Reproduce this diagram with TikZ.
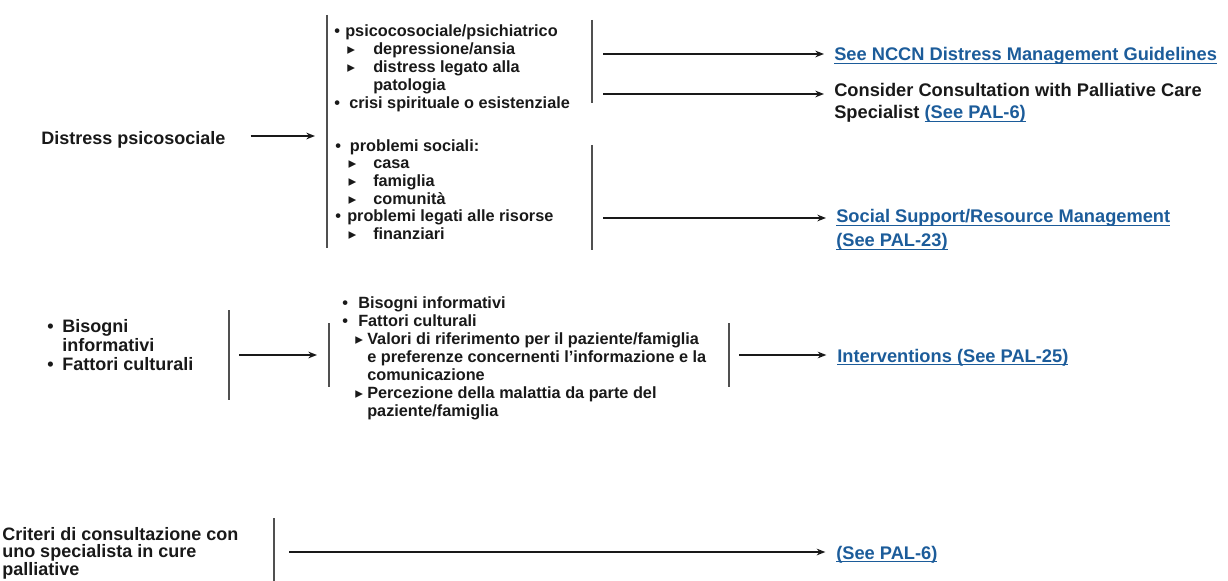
\documentclass[tikz,border=0pt]{standalone}
\usepackage{fontspec}
\setmainfont{Liberation Sans}
\newfontfamily\dejavu{DejaVu Sans}
\usetikzlibrary{arrows.meta}
\definecolor{linkblue}{RGB}{28,92,154}
\definecolor{ink}{RGB}{25,25,25}
\definecolor{bargray}{RGB}{80,80,80}
\newcommand{\tribullet}{{\dejavu\fontsize{11.5pt}{11.5pt}\selectfont ▸}}
\newcommand{\lnk}[1]{{\color{linkblue}\setbox0\hbox{#1}\rlap{\rule[-2.4pt]{\wd0}{1.05pt}}\box0}}
% note: for multi-line nodes the base anchor is the baseline of the LAST line
\tikzset{
  main/.style={font=\bfseries\fontsize{13.5pt}{14.25pt}\selectfont, text=ink, inner sep=0pt, align=left, anchor=base west},
  listtxt/.style={main, font=\bfseries\fontsize{12.2pt}{13.5pt}\selectfont},
  listtxtb/.style={main, font=\bfseries\fontsize{12.2pt}{13.2pt}\selectfont},
  crit/.style={main, font=\bfseries\fontsize{13.5pt}{13.2pt}\selectfont},
  linktxt/.style={main, font=\bfseries\fontsize{13.7pt}{16.5pt}\selectfont},
  linktxtb/.style={main, font=\bfseries\fontsize{13.7pt}{18pt}\selectfont},
  bar/.style={draw=bargray, line width=1.4pt},
  arr/.style={draw=ink, line width=1.1pt, -{Stealth[length=6.5pt,width=5pt]}}
}
\begin{document}
\begin{tikzpicture}[x=0.75pt,y=-0.75pt]
\useasboundingbox (0,0) rectangle (1228,581);

% ---------- top section ----------
\node[main] (distress) at (41,145) {Distress psicosociale};

\coordinate (b1t) at (327,15);
\coordinate (b1b) at (327,248);
\draw[bar] (b1t) -- (b1b);

\node[listtxt] (list1) at (334,108.3) {%
\makebox[8.25pt][l]{•}psicocosociale/psichiatrico\\
\hspace*{9.75pt}\makebox[19.5pt][l]{\tribullet}depressione/ansia\\
\hspace*{9.75pt}\makebox[19.5pt][l]{\tribullet}distress legato alla\\
\hspace*{29.25pt}patologia\\
\makebox[11.25pt][l]{•}crisi spirituale o esistenziale};

\node[listtxtb] (list2) at (335,239.3) {%
\makebox[11pt][l]{•}problemi sociali:\\
\hspace*{10pt}\makebox[18.5pt][l]{\tribullet}casa\\
\hspace*{10pt}\makebox[18.5pt][l]{\tribullet}famiglia\\
\hspace*{10pt}\makebox[18.5pt][l]{\tribullet}comunità\\
\makebox[9pt][l]{•}problemi legati alle risorse\\
\hspace*{10pt}\makebox[18.5pt][l]{\tribullet}finanziari};

\coordinate (distarr) at (327,136);
\draw[arr, shorten <=18.75pt, shorten >=9pt] (distress.east |- distarr) -- (distarr);

\coordinate (r1t) at (592,20);
\coordinate (r1b) at (592,103);
\draw[bar] (r1t) -- (r1b);
\coordinate (r2t) at (592,145);
\coordinate (r2b) at (592,250);
\draw[bar] (r2t) -- (r2b);

\node[linktxt] (nccn) at (834,61) {\lnk{See NCCN Distress Management Guidelines}};
\node[linktxt] (consult) at (834,119) {Consider Consultation with Palliative Care\\Specialist \lnk{(See PAL-6)}};
\node[linktxtb] (social) at (836,247) {\lnk{Social Support/Resource Management}\\\lnk{(See PAL-23)}};

\coordinate (a1) at (592,54);
\coordinate (a2) at (592,94);
\coordinate (a3) at (592,218);
\draw[arr, shorten <=8.25pt, shorten >=7.5pt] (a1) -- (a1 -| nccn.west);
\draw[arr, shorten <=8.25pt, shorten >=7.5pt] (a2) -- (a2 -| consult.west);
\draw[arr, shorten <=8.25pt, shorten >=7.5pt] (a3) -- (a3 -| social.west);

% ---------- middle section ----------
\node[main] (info) at (47,370) {%
\makebox[11.25pt][l]{•}Bisogni\\
\hspace*{11.25pt}informativi\\
\makebox[11.25pt][l]{•}Fattori culturali};

\coordinate (m1t) at (229,310);
\coordinate (m1b) at (229,400);
\draw[bar] (m1t) -- (m1b);
\coordinate (m2t) at (329,323);
\coordinate (m2b) at (329,387);
\draw[bar] (m2t) -- (m2b);

\node[listtxt] (list3) at (342,416.3) {%
\makebox[12pt][l]{•}Bisogni informativi\\
\makebox[12pt][l]{•}Fattori culturali\\
\hspace*{9.75pt}\makebox[9pt][l]{\tribullet}Valori di riferimento per il paziente/famiglia\\
\hspace*{18.75pt}e preferenze concernenti l'informazione e la\\
\hspace*{18.75pt}comunicazione\\
\hspace*{9.75pt}\makebox[9pt][l]{\tribullet}Percezione della malattia da parte del\\
\hspace*{18.75pt}paziente/famiglia};

\coordinate (m3t) at (729,323);
\coordinate (m3b) at (729,387);
\draw[bar] (m3t) -- (m3b);

\node[linktxt] (interv) at (837,362) {\lnk{Interventions (See PAL-25)}};

\coordinate (ma1) at (229,355);
\coordinate (ma2) at (729,355);
\draw[arr, shorten <=7.5pt, shorten >=9pt] (ma1) -- (ma1 -| m2t);
\draw[arr, shorten <=7.5pt, shorten >=8pt] (ma2) -- (ma2 -| interv.west);

% ---------- bottom section ----------
\node[crit] (criteri) at (2,575.5) {%
Criteri di consultazione con\\
uno specialista in cure\\
palliative};

\coordinate (c1t) at (274,518);
\coordinate (c1b) at (274,581);
\draw[bar] (c1t) -- (c1b);

\node[linktxt] (pal6) at (836,559) {\lnk{(See PAL-6)}};

\coordinate (ca) at (274,552);
\draw[arr, shorten <=11.25pt, shorten >=8pt] (ca) -- (ca -| pal6.west);
\end{tikzpicture}
\end{document}
